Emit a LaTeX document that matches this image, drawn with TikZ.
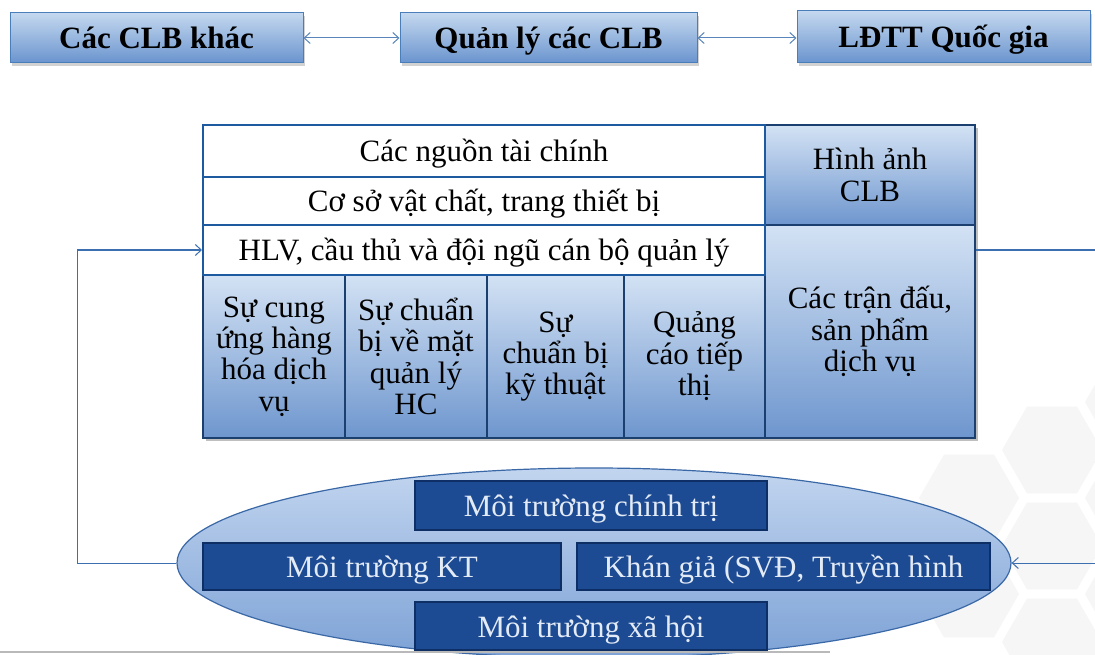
\documentclass[tikz,border=0pt]{standalone}
\usepackage{fontspec}
\setmainfont{Liberation Serif}
\usetikzlibrary{arrows.meta,shadows,shapes.geometric,calc}
\definecolor{topA}{HTML}{C4D8EF}
\definecolor{topB}{HTML}{6A94CE}
\definecolor{topBorder}{HTML}{4A7EBB}
\definecolor{cellTop}{HTML}{D3E2F4}
\definecolor{cellBot}{HTML}{6E96CE}
\definecolor{cellBorder}{HTML}{1B3F6E}
\definecolor{rowBorder}{HTML}{1E5AA0}
\definecolor{darkFill}{HTML}{1D4B93}
\definecolor{darkBorder}{HTML}{0E2E66}
\definecolor{darkText}{HTML}{E3EBF6}
\definecolor{ellTop}{HTML}{C2D5EF}
\definecolor{ellBot}{HTML}{7DA2D6}
\definecolor{ellBorder}{HTML}{3A68A6}
\definecolor{lineCol}{HTML}{3C6FAF}
\tikzset{
  bigfont/.style={font={\fontsize{31}{31.4}\selectfont}},
  oneline/.style={text height=22pt, text depth=0pt},
  topbox/.style={rectangle, draw=topBorder, line width=1pt, top color=topA, bottom color=topB,
     inner sep=0pt, oneline, font={\fontsize{31}{31}\selectfont\bfseries},
     drop shadow={opacity=0.35, shadow xshift=2pt, shadow yshift=-3pt}},
  rowbox/.style={rectangle, draw=rowBorder, line width=2pt, fill=white, inner sep=0pt,
     minimum width=562pt, bigfont, oneline},
  cellbox/.style={rectangle, draw=cellBorder, line width=1.1pt, top color=cellTop, bottom color=cellBot,
     inner sep=0pt, align=center, bigfont},
  darkbox/.style={rectangle, draw=darkBorder, line width=1.5pt, fill=darkFill, text=darkText,
     inner sep=0pt, bigfont, oneline},
  biarrow/.style={draw=lineCol!85, line width=1pt, {Straight Barb[length=6pt,width=11pt]}-{Straight Barb[length=6pt,width=11pt]}},
  fbline/.style={draw=lineCol, line width=1pt, -{Straight Barb[length=6pt,width=11pt]}},
  hexshape/.style={fill=gray!7, draw=none}
}
\begin{document}
\begin{tikzpicture}[x=1pt, y=-1pt]
\useasboundingbox[fill=white] (0,0) rectangle (1095,655);
\clip (0,0) rectangle (1095,655);
% faint background pattern
\foreach \cx/\cy in {1052/450, 1052/546, 1052/642, 969/498, 969/594, 1135/498, 1135/594, 1135/402}
  \fill[hexshape] (\cx,\cy) +(0:50) -- +(60:50) -- +(120:50) -- +(180:50) -- +(240:50) -- +(300:50) -- cycle;

% top row
\node[topbox, minimum width=293pt, minimum height=50pt] (t1) at (156.5,38) {Các CLB khác};
\node[topbox, minimum width=297pt, minimum height=50pt] (t2) at (548.5,38) {Quản lý các CLB};
\node[topbox, minimum width=293pt, minimum height=52pt] (t3) at (943.5,37) {LĐTT Quốc gia};
\draw[biarrow] (t1.east) -- (t2.west);
\draw[biarrow] (t2.east) -- (t3.west |- t2.east);

% shadow of main block
\fill[black, opacity=0.25] (206,128) rectangle (978,441);

% main block
\node[cellbox, minimum width=210pt, minimum height=100pt] (img) at (870,175) {Hình ảnh\\CLB};
\node[cellbox, minimum width=210pt, minimum height=213pt] (match) at (870,331.5) {Các trận đấu,\\sản phẩm\\dịch vụ};
\node[cellbox, minimum width=142pt, minimum height=163pt] (c1) at (274,356.5) {Sự cung\\ứng hàng\\hóa dịch\\vụ};
\node[cellbox, minimum width=142pt, minimum height=163pt] (c2) at (416,356.5) {Sự chuẩn\\bị về mặt\\quản lý\\HC};
\node[cellbox, minimum width=137pt, minimum height=163pt] (c3) at (555.5,356.5) {Sự\\chuẩn bị\\kỹ thuật};
\node[cellbox, minimum width=141pt, minimum height=163pt] (c4) at (694.5,356.5) {Quảng\\cáo tiếp\\thị};
\node[rowbox, minimum height=52pt] (r1) at (484,151) {Các nguồn tài chính};
\node[rowbox, minimum height=48pt] (r2) at (484,201) {Cơ sở vật chất, trang thiết bị};
\node[rowbox, minimum height=50pt] (r3) at (484,250) {HLV, cầu thủ và đội ngũ cán bộ quản lý};

% environment ellipse
\node[ellipse, draw=ellBorder, line width=1.2pt, top color=ellTop, bottom color=ellBot,
      minimum width=834pt, minimum height=190pt, inner sep=0pt] (ell) at (594,563) {};
\node[darkbox, minimum width=352pt, minimum height=49pt] (pol) at (591,505.5) {Môi trường chính trị};
\node[darkbox, minimum width=358pt, minimum height=47pt] (kt) at (382,566.5) {Môi trường KT};
\node[darkbox, minimum width=413pt, minimum height=47pt] (kg) at (783.5,566.5) {Khán giả (SVĐ, Truyền hình};
\node[darkbox, minimum width=352pt, minimum height=48pt] (xh) at (591,626) {Môi trường xã hội};

% feedback connectors
\coordinate (fbL1) at (77,563);
\coordinate (fbL2) at (77,250);
\coordinate (fbR1) at (1100,250);
\coordinate (fbR2) at (1100,563);
\draw[fbline] (ell.west) -- (fbL1) -- (fbL2) -- (r3.west);
\draw[fbline] (match.east |- r3.east) -- (fbR1) -- (fbR2) -- (ell.east);

% bottom page edge line
\draw[gray!55, line width=2pt] (0,652) -- (830,652);
\end{tikzpicture}
\end{document}
